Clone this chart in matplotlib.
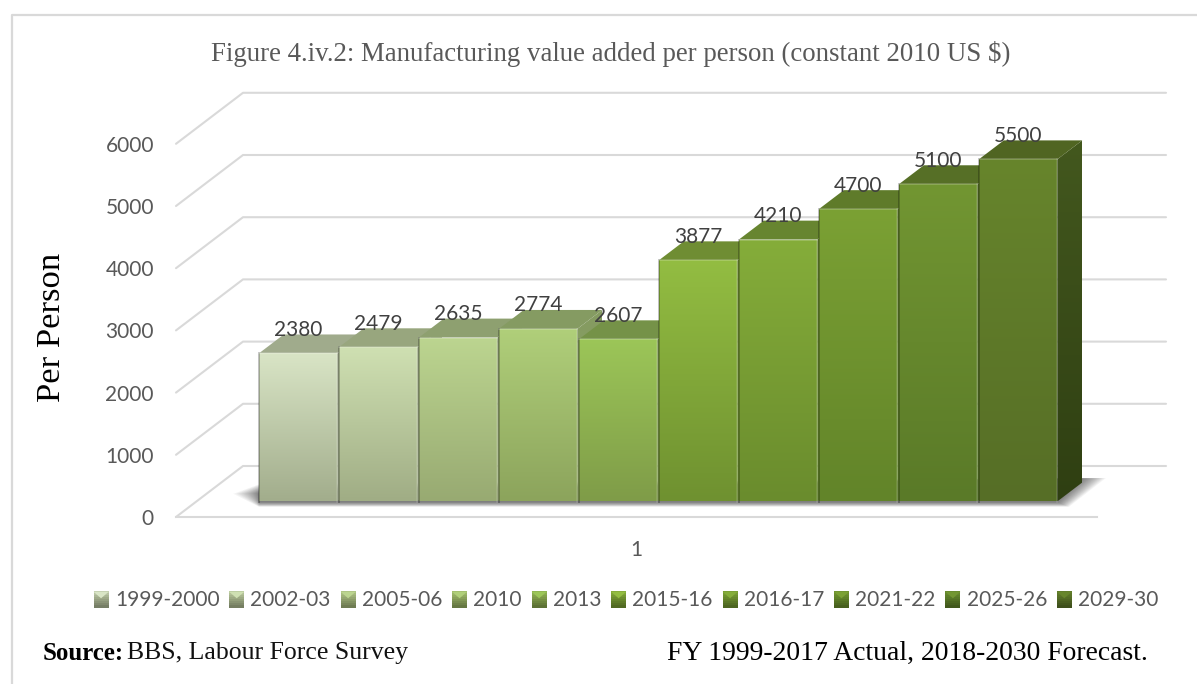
import numpy as np
import matplotlib
matplotlib.use('Agg')
import matplotlib.pyplot as plt
from matplotlib.colors import LinearSegmentedColormap, to_rgb
from matplotlib.legend_handler import HandlerBase
from matplotlib.patches import Patch, Polygon, Rectangle

# data
years = ['1999-2000', '2002-03', '2005-06', '2010', '2013', '2015-16', '2016-17', '2021-22', '2025-26', '2029-30']
values = [2380, 2479, 2635, 2774, 2607, 3877, 4210, 4700, 5100, 5500]
yticks = [0, 1000, 2000, 3000, 4000, 5000, 6000]

# colours: top and bottom of each front face
front_top = ['#d9e5c6', '#cfe0b2', '#bcd590', '#b0cf7a', '#9cc658', '#93bd42', '#85ad3a', '#7ba134', '#729632', '#67852c']
front_bot = ['#a2ad8c', '#a0ad85', '#98aa72', '#8ca45c', '#7f9c48', '#6f9130', '#6a8c2d', '#628429', '#5a7a28', '#566e26']
roof = ['#a0ab8c', '#98a67e', '#8ea070', '#859b62', '#759248', '#6f8d33', '#678530', '#5f7b2a', '#566f26', '#506522']
grid_col = '#d9d9d9'
tick_col = '#595959'
label_col = '#404040'

# layout, px of the 1197x684 image
W, H = 1197, 684
bar_px = 80          # one category
unit_px = 0.0622     # one value unit
bar0_px = 298        # centre of the first bar
base_px = 501.5      # foot of the bars
half_w = 0.49


def xpx(px):
    return (px - bar0_px) / bar_px


def ypx(px):
    return (base_px - px) / unit_px


bar_dx, bar_dy = 25 / bar_px, 19 / unit_px
floor_front = ypx(517)
floor_back = ypx(466)
tick_nudge = 2 / unit_px

fig = plt.figure(figsize=(W / 100, H / 100), dpi=100, facecolor='white')
ax = fig.add_axes([0, 0, 1, 1])
ax.axis('off')


def grad_poly(verts, c1, c2, z):
    # vertical gradient, clipped to a polygon
    cmap = LinearSegmentedColormap.from_list('g', [c1, c2])
    xs, ys = zip(*verts)
    im = ax.imshow(np.linspace(0, 1, 200).reshape(-1, 1), cmap=cmap, aspect='auto', origin='upper',
                   extent=(min(xs), max(xs), min(ys), max(ys)), zorder=z, interpolation='bilinear')
    im.set_clip_path(Polygon(verts, transform=ax.transData))


# frame of the picture
ax.plot([xpx(1197), xpx(11.5), xpx(11.5)], [ypx(15), ypx(15), ypx(684)], color=grid_col, lw=1.6, zorder=1)

# walls and floor
for t in yticks:
    ax.plot([xpx(176), xpx(243), xpx(1166)],
            [floor_front + t, floor_back + t, floor_back + t], color=grid_col, lw=1.5, zorder=1, solid_capstyle='round')
    ax.text(xpx(154), floor_front + t - tick_nudge, str(t), ha='right', va='center', fontsize=15, family='Lato', color=tick_col)
ax.plot([xpx(176), xpx(1097)], [floor_front, floor_front], color=grid_col, lw=1.5, zorder=1)

# soft shadow on the floor
for k in np.linspace(1, 0, 20):
    s = 24 * k
    ax.add_patch(Polygon([(xpx(259 - 26 * k), ypx(484 + s * 0.4)), (xpx(1082 + s), ypx(478)),
                          (xpx(1057 + s * 0.5), ypx(502 + s * 0.2)), (xpx(259), ypx(502 + s * 0.2))],
                         fc='#303030', ec='none', alpha=0.045, zorder=2))

# bars, left to right so that the next one covers the side of this one
for i, (v, lab) in enumerate(zip(values, years)):
    l, r = i - half_w, i + half_w
    side = [(r, 0), (r + bar_dx, bar_dy), (r + bar_dx, v + bar_dy), (r, v)]
    grad_poly(side, roof[i] if i < 9 else '#43581e', '#2f3f12' if i == 9 else front_bot[i], 3 + i * 0.1)
    ax.add_patch(Polygon([(l, v), (l + bar_dx, v + bar_dy), (r + bar_dx, v + bar_dy), (r, v)],
                         fc=roof[i], ec='none', zorder=3 + i * 0.1 + 0.01))
    grad_poly([(l, 0), (r, 0), (r, v), (l, v)], front_top[i], front_bot[i], 3 + i * 0.1 + 0.02)
    # bevel on the edges of the face
    ax.plot([l, l], [0, v], color='black', alpha=0.25, lw=1.4, zorder=3 + i * 0.1 + 0.03)
    ax.plot([r, r], [0, v], color='white', alpha=0.12, lw=1.2, zorder=3 + i * 0.1 + 0.03)
    ax.plot([l, r], [v, v], color='white', alpha=0.22, lw=1.2, zorder=3 + i * 0.1 + 0.03)
    ax.annotate(str(v), (i, v), xytext=(0, 17), textcoords='offset points', ha='center', va='center',
                fontsize=15, family='Lato', color=label_col, zorder=10)

ax.set_xlim(xpx(0), xpx(W))
ax.set_ylim(ypx(H), ypx(0))

# category label
ax.text(xpx(636), ypx(550.5), '1', ha='center', va='center', fontsize=15, family='Lato', color=tick_col)

# texts
ax.text(xpx(611), ypx(54.5), 'Figure 4.iv.2: Manufacturing value added per person (constant 2010 US $)',
        ha='center', va='center', fontsize=19.4, family='Liberation Serif', color=tick_col)
ax.text(xpx(52), ypx(327), 'Per Person', rotation=90, ha='center', va='center', fontsize=24.8,
        family='Liberation Serif', color='black')
ax.text(xpx(43), ypx(653), 'Source:', ha='left', va='center', fontsize=17.9, family='Liberation Serif', weight='bold', color='black')
ax.text(xpx(127), ypx(653), 'BBS, Labour Force Survey', ha='left', va='center', fontsize=18.5,
        family='Liberation Serif', color='#111111')
ax.text(xpx(667), ypx(653), 'FY 1999-2017 Actual, 2018-2030 Forecast.', ha='left', va='center', fontsize=19.9,
        family='Liberation Serif', color='black')


class SwatchHandler(HandlerBase):
    # little bevelled square of the legend
    def create_artists(self, legend, orig, xd, yd, w, h, fontsize, trans):
        i = int(orig.get_gid())
        side = h * 1.1
        dark = tuple(c * 0.72 for c in to_rgb(front_bot[i]))
        cmap = LinearSegmentedColormap.from_list('s', [front_top[i], front_bot[i], dark])
        arts = []
        for k in range(8):
            arts.append(Rectangle((-xd, -yd + side * (7 - k) / 8 - 1), w, side / 8 + 0.3, fc=cmap(0.2 + k / 9),
                                  ec='none', transform=trans))
        top = -yd + side - 1
        arts.append(Polygon([(-xd, top), (-xd + w, top), (-xd + w / 2, top - side * 0.4)], fc=front_top[i], ec='none',
                            transform=trans))
        return arts


handles = [Patch(gid=str(i), label=y) for i, y in enumerate(years)]
leg = ax.legend(handles=handles, ncol=10, loc='center', bbox_to_anchor=(626 / W, 1 - 600.5 / H),
                bbox_transform=fig.transFigure, frameon=False, handler_map={Patch: SwatchHandler()},
                prop={'family': 'Lato', 'size': 15}, handlelength=0.72, handleheight=0.7,
                handletextpad=0.3, columnspacing=0.47, labelcolor=tick_col, borderpad=0, borderaxespad=0)

fig.savefig('out.png', dpi=100)
